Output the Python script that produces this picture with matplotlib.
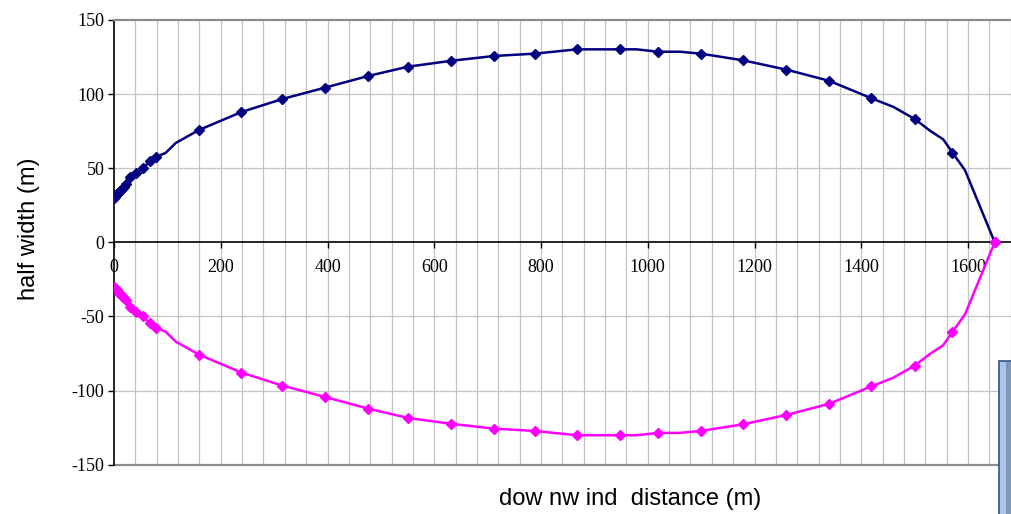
import matplotlib
matplotlib.use("Agg")
import matplotlib.pyplot as plt
from matplotlib.patches import Rectangle

# ---- data ----
dist = [0, 1.5, 3, 5, 7.5, 10, 12, 15, 18, 22, 29.4, 42, 54.4, 67, 79.4, 96.7, 115.6,
        159.3, 238.7, 315.5, 394.8, 475.9, 550.8, 632.1, 711.4, 788.2, 867.4, 947.4,
        979, 1019.2, 1060, 1099.2, 1178.5, 1259.8, 1339.6, 1419, 1460, 1500.1, 1528.8,
        1553.7, 1570.8, 1594.4, 1650]
half_width = [30, 30.8, 31.6, 32.5, 33.3, 34.2, 34.9, 36.2, 37.5, 39.1, 43.9, 47.0, 49.9,
              54.7, 57.8, 60.3, 67.0, 75.8, 87.9, 96.7, 104.3, 112.2, 118.5, 122.5, 125.7,
              127.3, 130.2, 130.2, 130.2, 128.6, 128.6, 127.3, 122.8, 116.5, 109.0, 97.2,
              91.4, 83.2, 75.3, 69.4, 60.5, 48.6, 0]
# points of the line that carry no marker (pure line vertices)
unmarked = [96.7, 115.6, 979, 1060, 1460, 1528.8, 1553.7, 1594.4]
lower_half_width = [-v for v in half_width]

x_ticks = [0, 200, 400, 600, 800, 1000, 1200, 1400, 1600]
y_ticks = [-150, -100, -50, 0, 50, 100, 150]
y_tick_labels = ["-150", "-100", "-50", "0", "50", "100", "150"]

W, H = 1012, 514
fig = plt.figure(figsize=(W / 100, H / 100), dpi=100)
x0, x1 = 114, 1021.4
y_top, y_bot = 20, 464.6
ax = fig.add_axes([x0 / W, 1 - y_bot / H, (x1 - x0) / W, (y_bot - y_top) / H])
ax.set_xlim(0, 1700)
ax.set_ylim(-150, 150)

# grid
for gx in range(40, 1700, 40):
    ax.axvline(gx, color="#c4c4c4", lw=0.9, zorder=0)
for gy in [-100, -50, 50, 100]:
    ax.axhline(gy, color="#c4c4c4", lw=0.9, zorder=0)
ax.axhline(-150, color="#8c8c8c", lw=1.6, zorder=1, clip_on=False)

markevery = [i for i, d in enumerate(dist) if d not in unmarked]
ax.plot(dist, half_width, color="#000080", lw=1.8, marker="D", ms=5,
        markevery=markevery, zorder=3)
ax.plot(dist, lower_half_width, color="#ff00ff", lw=1.8, marker="D", ms=5,
        markevery=markevery, zorder=4)

# spines
ax.spines["right"].set_visible(False)
ax.spines["top"].set_color("#8c8c8c")
ax.spines["top"].set_linewidth(1.6)
ax.spines["left"].set_color("black")
ax.spines["left"].set_linewidth(1.2)
ax.spines["bottom"].set_position(("data", 0))
ax.spines["bottom"].set_color("black")
ax.spines["bottom"].set_linewidth(1.2)

serif = ["Liberation Serif", "DejaVu Serif"]
ax.set_xticks(x_ticks)
ax.set_xticklabels([str(t) for t in x_ticks], fontfamily=serif, fontsize=13)
ax.set_yticks(y_ticks)
ax.set_yticklabels(y_tick_labels, fontfamily=serif, fontsize=13)
ax.tick_params(axis="x", direction="out", length=4, width=1, pad=8)
ax.tick_params(axis="y", direction="out", length=4, width=1, pad=3)

sans = ["Liberation Sans", "DejaVu Sans"]
fig.text(29 / W, 1 - 229 / H, "half width (m)", rotation=90, ha="center", va="center",
         fontfamily=sans, fontsize=17)
fig.text(630 / W, 1 - 499 / H, "dow nw ind  distance (m)", ha="center", va="center",
         fontfamily=sans, fontsize=17)

# cut-off box at lower right
fig.patches.append(Rectangle((999.5 / W, 1 - 530 / H), 30 / W, (530 - 360.5) / H,
                             transform=fig.transFigure, facecolor="#a9c5e9",
                             edgecolor="#2f5488", lw=1.2, zorder=5))
fig.patches.append(Rectangle((1006.5 / W, 1 - 530 / H), 30 / W, (530 - 361.5) / H,
                             transform=fig.transFigure, facecolor="#8198bb",
                             edgecolor="none", zorder=6))

fig.savefig("out.png", dpi=100)
